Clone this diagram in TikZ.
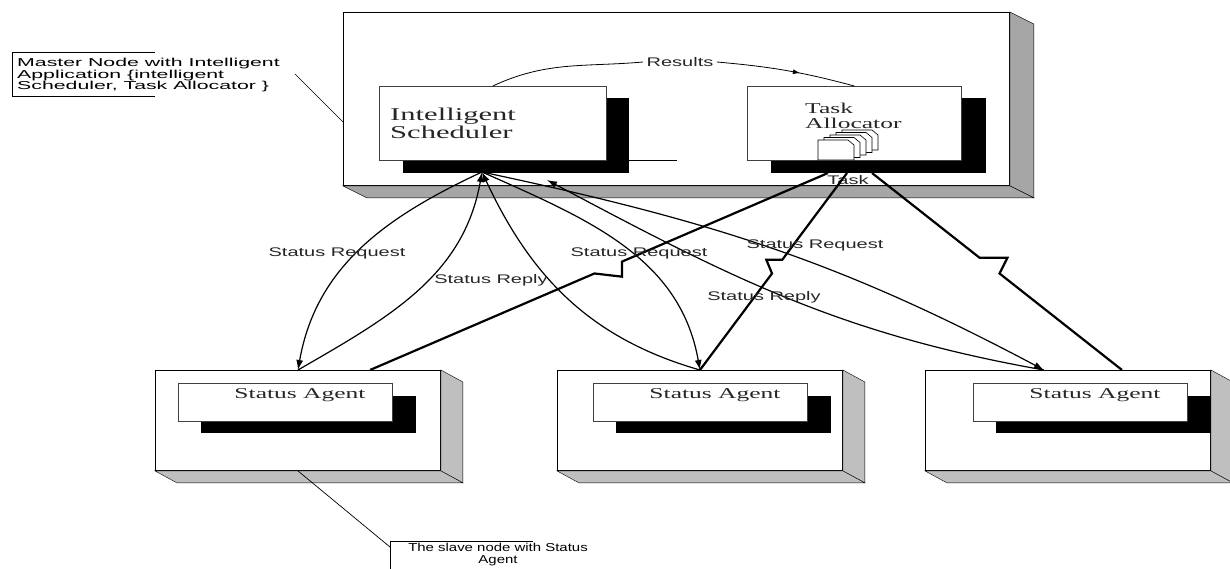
\documentclass[tikz,border=0pt]{standalone}
\usepackage{fontspec}
\setmainfont{Liberation Serif}
\newfontfamily\boxfont[FakeStretch=1.7]{Liberation Serif}
\newfontfamily\lblfont[FakeStretch=1.6]{Liberation Sans}
\newfontfamily\notefont[FakeStretch=1.85]{Liberation Sans}
\newfontfamily\slavefont[FakeStretch=1.3]{Liberation Sans}
\usetikzlibrary{arrows.meta,calc,positioning,decorations.markings}

\tikzset{
  facebox/.style={draw, fill=white, line width=0.9pt, inner sep=0pt, anchor=north west},
  whitebox/.style={draw=black!75, fill=white, line width=0.6pt, inner sep=0pt, anchor=north west},
  blackbox/.style={fill=black, inner sep=0pt, anchor=north west},
  msg/.style={-{Latex[length=10pt,width=7pt]}, line width=1.2pt},
  tasklink/.style={line width=2.2pt, line join=miter},
  lbl/.style={font=\lblfont\fontsize{12.5}{14}\selectfont, text=black!85},
  agenttxt/.style={font=\boxfont\fontsize{15}{15}\selectfont, text=black!85, inner sep=0pt, anchor=north},
}

\begin{document}
\begin{tikzpicture}[x=1pt,y=1pt]
    \useasboundingbox (0,0) rectangle (1230,-568);

    % master node
    \node[facebox, minimum width=666, minimum height=173] (master) at (343,-12) {};
    \draw[fill=gray!70] (master.north east) -- ++(24,-12) -- ($(master.south east)+(24,-12)$) -- (master.south east) -- cycle;
    \draw[fill=gray!70] (master.south west) -- ++(24,-12) -- ($(master.south east)+(24,-12)$) -- (master.south east) -- cycle;

    \node[blackbox, minimum width=226, minimum height=75] (schedsh) at (403,-98) {};
    \node[whitebox, minimum width=227, minimum height=74] (sched) at (379,-86) {};
    \node[font=\boxfont\fontsize{18}{18}\selectfont, text=black!85, inner sep=0pt, align=left, anchor=north west] (schedtxt) at (390,-108) {Intelligent\\Scheduler};
    \draw[line width=0.6pt] (schedsh.east |- sched.south) -- ++(48,0);

    \node[blackbox, minimum width=215, minimum height=75] (allocsh) at (771,-98) {};
    \node[whitebox, minimum width=214, minimum height=74] (alloc) at (747,-86) {};
    \node[font=\boxfont\fontsize{15}{15}\selectfont, text=black!85, inner sep=0pt, align=left, anchor=north west] (alloctxt) at (805,-103) {Task\\Allocator};
    \coordinate (docs) at (818,-160);
    \foreach \i in {4,3,2,1,0}
      \draw[fill=white, line width=0.6pt] ($(docs)+(\i*6,\i*2.5)$) -- ++(0,20) -- ++(30,0) -- ++(6,-5) -- ++(0,-15) -- cycle;
    \node[lbl] (tasklbl) at (848,-180) {Task};

    % results
    \node[lbl] (res) at (680,-62) {Results};
    \draw[line width=0.8pt] (sched.north) to[out=25, in=185] (res.west);
    \draw[line width=0.8pt, postaction={decorate},
      decoration={markings, mark=at position 0.6 with {\arrow{Latex[length=7pt,width=5pt]}}}]
      (res.east) to[out=-5, in=165] (alloc.north);

    % slave nodes
    \foreach \n/\x/\ix in {ag1/155/178, ag2/557/593, ag3/925/973} {
      \node[facebox, minimum width=285, minimum height=100] (\n) at (\x,-370) {};
      \draw[fill=gray!50] (\n.north east) -- ++(22,-12) -- ($(\n.south east)+(22,-12)$) -- (\n.south east) -- cycle;
      \draw[fill=gray!50] (\n.south west) -- ++(22,-12) -- ($(\n.south east)+(22,-12)$) -- (\n.south east) -- cycle;
      \node[blackbox, minimum width=215, minimum height=37] (\n sh) at (\ix+23,-396) {};
      \node[whitebox, minimum width=214, minimum height=38] (\n in) at (\ix,-383) {};
      \node[agenttxt] (\n txt) at ($(\n in.north west)+(122,-5)$) {Status Agent};
    }

    % status messages
    \coordinate (hub) at (482,-172);
    \coordinate (hubR) at (547,-180);
    \coordinate (ag3top) at ($(ag3.north)+(-24,0)$);
    \draw[msg] (hub) to[out=205, in=80] (ag1.north);
    \draw[msg] (ag1.north) to[out=30, in=-100] (hub);
    \draw[msg] (hub) to[out=-24, in=100] (ag2.north);
    \draw[msg] (ag2.north) to[out=164, in=-65] (hub);
    \draw[msg] (hub) to[out=-12, in=152] (ag3top);
    \draw[msg] (ag3top) to[out=170, in=-28] (hubR);

    % task links
    \coordinate (tA) at (828,-173);
    \coordinate (tB) at (847,-173);
    \coordinate (tC) at (872,-173);
    \coordinate (eA) at (370,-370);
    \coordinate (eC) at (1122,-370);
    \draw[tasklink] (tA) -- ($(tA)!0.45!(eA)$) -- ($(tA)!0.45!(eA)+(0,-15)$) -- ($(tA)!0.51!(eA)$) -- (eA);
    \draw[tasklink] (tB) -- ($(tB)!0.44!(ag2.north)$) -- ($(tB)!0.44!(ag2.north)+(-16,0)$) -- ($(tB)!0.51!(ag2.north)$) -- (ag2.north);
    \draw[tasklink] (tC) -- ($(tC)!0.43!(eC)$) -- ($(tC)!0.43!(eC)+(28,0)$) -- ($(tC)!0.51!(eC)$) -- (eC);

    \node[lbl] at (337,-253) {Status Request};
    \node[lbl] at (491,-280) {Status Reply};
    \node[lbl] at (639,-253) {Status Request};
    \node[lbl] at (815,-245) {Status Request};
    \node[lbl] at (764,-297) {Status Reply};

    % callouts
    \node[font=\notefont\fontsize{11.5}{10.5}\selectfont, text=black, inner sep=0pt, align=left, anchor=north west] (mnote) at (17,-58) {Master Node with Intelligent\\Application \{intelligent\\Scheduler, Task Allocator \}};
    \draw[line width=0.7pt] (155,-52) -- (12,-52) -- (12,-96) -- (155,-96);
    \draw[line width=0.7pt] (295,-74) -- ($(master.north west)+(0,-110)$);

    \node[font=\slavefont\fontsize{11.5}{11.5}\selectfont, text=black, inner sep=0pt, align=center, anchor=north] (snote) at (498,-543) {The slave node with Status\\Agent};
    \draw[line width=0.7pt] (533,-541) -- (390,-541) -- (390,-570);
    \draw[line width=0.7pt] (ag1.south) -- (390,-547);
\end{tikzpicture}
\end{document}
